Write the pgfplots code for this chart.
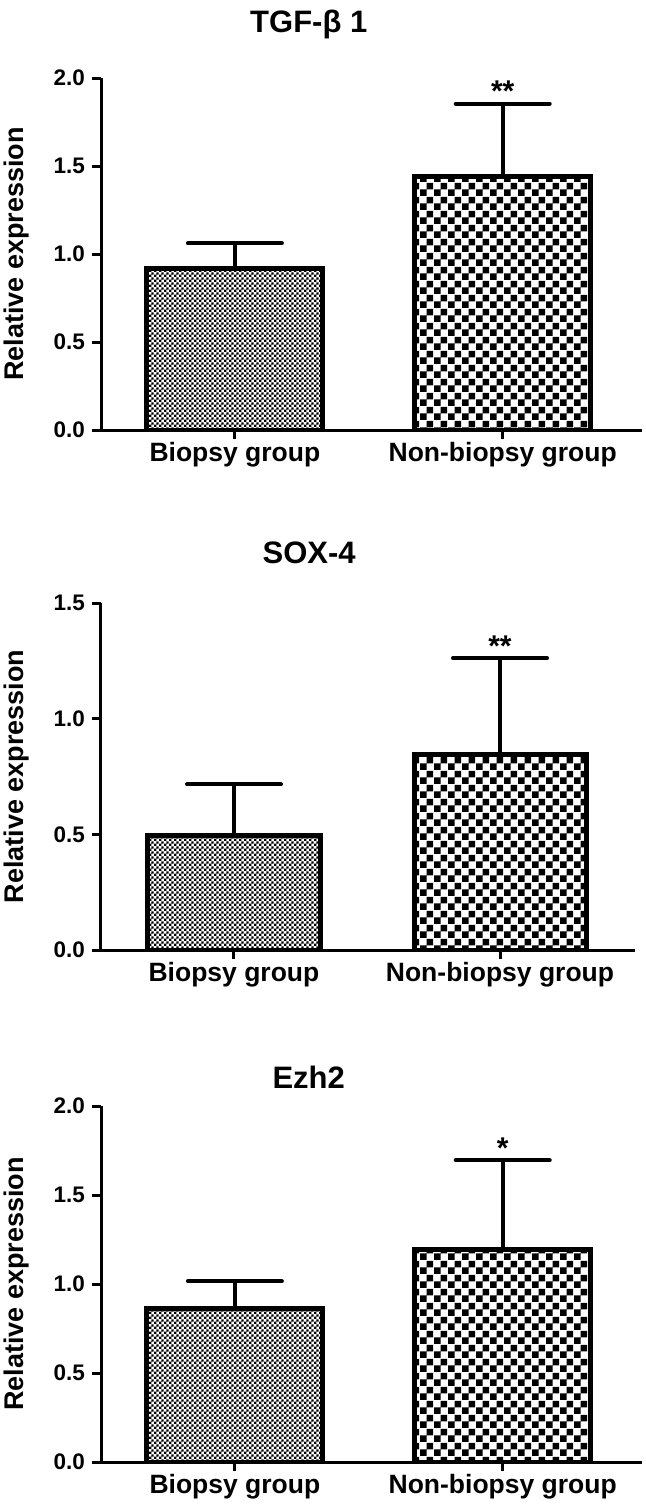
\documentclass[border=0pt]{standalone}
\usepackage{fontspec}
\setmainfont{Liberation Sans}
\usepackage{pgfplots}
\pgfplotsset{compat=1.18}
\usetikzlibrary{patterns}

\pgfdeclarepatternformonly{finecheck}{\pgfpointorigin}{\pgfqpoint{2.4pt}{2.4pt}}{\pgfqpoint{2.4pt}{2.4pt}}{%
  \pgfpathrectangle{\pgfpointorigin}{\pgfqpoint{1.2pt}{1.2pt}}%
  \pgfpathrectangle{\pgfqpoint{1.2pt}{1.2pt}}{\pgfqpoint{1.2pt}{1.2pt}}%
  \pgfusepath{fill}}
\pgfdeclarepatternformonly{coarsecheck}{\pgfpointorigin}{\pgfqpoint{7pt}{7pt}}{\pgfqpoint{7pt}{7pt}}{%
  \pgfpathrectangle{\pgfpointorigin}{\pgfqpoint{3.5pt}{3.5pt}}%
  \pgfpathrectangle{\pgfqpoint{3.5pt}{3.5pt}}{\pgfqpoint{3.5pt}{3.5pt}}%
  \pgfusepath{fill}}

\tikzset{sigstar/.style={font=\fontsize{15}{16}\selectfont\bfseries, anchor=base, inner sep=0pt, yshift=1pt}}

\pgfplotsset{
  every axis title shift=0pt,
  panel/.style={
    scale only axis,
    anchor=south west,
    axis x line=bottom,
    axis y line=left,
    axis line style={-, line width=1.5pt, black},
    tick align=outside,
    major tick length=4.5pt,
    tick style={line width=1.5pt, black},
    xmin=0.5, ymin=0,
    enlargelimits=false,
    xtick={1,2},
    xticklabels={Biopsy group, Non-biopsy group},
    x tick label style={font=\fontsize{13.25}{15}\selectfont\bfseries, yshift=2pt},
    y tick label style={font=\fontsize{11.25}{13}\selectfont\bfseries},
    ytick distance=0.5,
    /pgf/number format/.cd, fixed, fixed zerofill, precision=1, assume math mode=true,
    /pgfplots/.cd,
    ylabel={Relative expression},
    ylabel style={font=\fontsize{13.5}{15}\selectfont\bfseries, anchor=center},
    title style={font=\fontsize{15.5}{17}\selectfont\bfseries, anchor=base, inner sep=0pt},
    ybar, bar shift=0pt,
    error bars/y dir=plus,
    error bars/y explicit,
    error bars/error bar style={line width=2pt, black},
    error bars/error mark options={rotate=90, mark size=23.5pt, line width=2pt, line cap=round, black},
  },
  bar1/.style={draw=black, line width=2.5pt, pattern=finecheck, pattern color=black},
  bar2/.style={draw=black, line width=2.5pt, pattern=coarsecheck, pattern color=black},
}

\begin{document}
\begin{tikzpicture}
\useasboundingbox (0,0) rectangle (323pt,-756pt);

% Panel 1: TGF-beta 1
\begin{axis}[panel, at={(50.5pt,-215pt)}, width=270.5pt, height=176pt,
  xmax=2.52, ymax=2.0, bar width=88pt,
  title={TGF-β 1}, title style={at={(axis description cs:0.384,1.128)}},
  ylabel style={at={(axis description cs:-0.157,0.5)}}]
\addplot[bar1] coordinates {(1,0.918) +- (0,0.142)};
\addplot[bar2] coordinates {(2,1.438) +- (0,0.417)};
\node[sigstar] at (axis cs:2,1.855) {**};
\end{axis}

% Panel 2: SOX-4
\begin{axis}[panel, at={(50.5pt,-475pt)}, width=266.8pt, height=173.5pt,
  xmax=2.506, ymax=1.5, bar width=86pt,
  title={SOX-4}, title style={at={(axis description cs:0.39,1.115)}},
  ylabel style={at={(axis description cs:-0.159,0.5)}}]
\addplot[bar1] coordinates {(1,0.497) +- (0,0.219)};
\addplot[bar2] coordinates {(2,0.847) +- (0,0.414)};
\node[sigstar] at (axis cs:2,1.261) {**};
\end{axis}

% Panel 3: Ezh2
\begin{axis}[panel, at={(50.5pt,-731pt)}, width=270.5pt, height=178pt,
  xmax=2.52, ymax=2.0, bar width=88pt,
  title={Ezh2}, title style={at={(axis description cs:0.384,1.048)}},
  ylabel style={at={(axis description cs:-0.157,0.5)}}]
\addplot[bar1] coordinates {(1,0.862) +- (0,0.153)};
\addplot[bar2] coordinates {(2,1.193) +- (0,0.502)};
\node[sigstar] at (axis cs:2,1.695) {*};
\end{axis}
\end{tikzpicture}
\end{document}
